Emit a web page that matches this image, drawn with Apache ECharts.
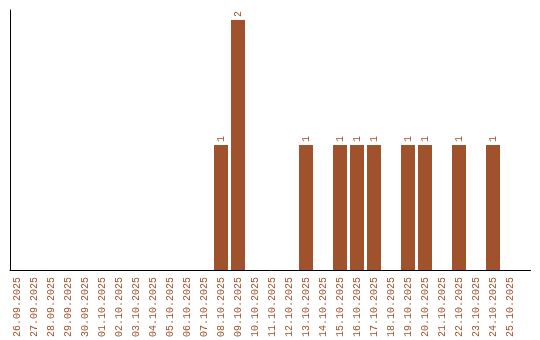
<!DOCTYPE html>
<html><head><meta charset="utf-8">
<script src="https://cdn.jsdelivr.net/npm/echarts@6/dist/echarts.min.js"></script>
<style>html,body{margin:0;padding:0;background:#fff}#c{width:540px;height:340px}</style>
</head><body><div id="c"></div>
<script>
const categories = ["26.09.2025","27.09.2025","28.09.2025","29.09.2025","30.09.2025","01.10.2025","02.10.2025","03.10.2025","04.10.2025","05.10.2025","06.10.2025","07.10.2025","08.10.2025","09.10.2025","10.10.2025","11.10.2025","12.10.2025","13.10.2025","14.10.2025","15.10.2025","16.10.2025","17.10.2025","18.10.2025","19.10.2025","20.10.2025","21.10.2025","22.10.2025","23.10.2025","24.10.2025","25.10.2025"];
const counts = [0,0,0,0,0,0,0,0,0,0,0,0,1,2,0,0,0,1,0,1,1,1,0,1,1,0,1,0,1,0];
const color = '#A0522D';
const font = '"Liberation Mono", monospace';
const chart = echarts.init(document.getElementById('c'), null, {renderer:'canvas'});
chart.setOption({
  animation: false,
  grid: [
    {left: 8.5, width: 510, top: 10, bottom: 70},
    {left: 10, right: 9.5, top: 10, bottom: 70}
  ],
  xAxis: [
    {type: 'category', gridIndex: 0, data: categories,
     axisLine: {show: false}, axisTick: {show: false},
     axisLabel: {rotate: 90, interval: 0, margin: 7, color: color, fontFamily: font, fontSize: 10}},
    {type: 'value', gridIndex: 1, min: 0, max: 1, axisLine: {show: true, onZero: false, lineStyle: {color: '#000', width: 1}},
     axisTick: {show: false}, axisLabel: {show: false}, splitLine: {show: false}}
  ],
  yAxis: [
    {type: 'value', gridIndex: 0, min: 0, max: 2.08, axisLine: {show: false}, axisTick: {show: false},
     axisLabel: {show: false}, splitLine: {show: false}},
    {type: 'value', gridIndex: 1, min: 0, max: 1, axisLine: {show: true, onZero: false, lineStyle: {color: '#000', width: 1}},
     axisTick: {show: false}, axisLabel: {show: false}, splitLine: {show: false}}
  ],
  series: [{
    type: 'bar', xAxisIndex: 0, yAxisIndex: 0,
    data: counts.map(v => v === 0 ? null : v),
    barWidth: 14,
    itemStyle: {color: color},
    label: {show: true, position: 'top', rotate: 90, align: 'left', verticalAlign: 'middle', distance: 3,
      color: color, fontFamily: font, fontSize: 10}
  }]
});
</script></body></html>
